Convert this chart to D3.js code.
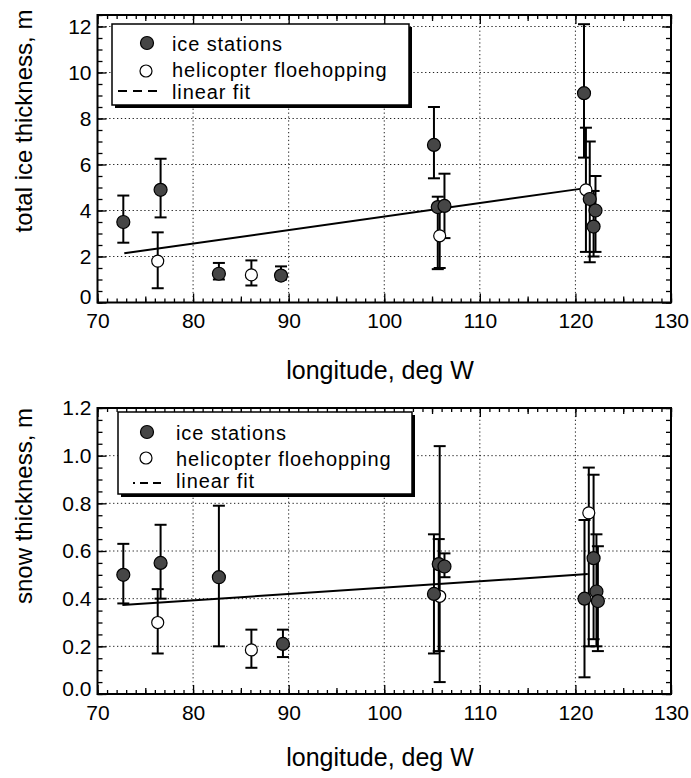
<!DOCTYPE html>
<html>
<head>
<meta charset="utf-8">
<script src="https://cdn.jsdelivr.net/npm/d3@7"></script>
<style>
  html, body { margin: 0; padding: 0; background: #fff; }
  svg { display: block; }
  text { font-family: "Liberation Sans", Arial, Helvetica, sans-serif; fill: #000; }
</style>
</head>
<body>
<svg id="chart" width="691" height="778"></svg>
<script>
// ---------------- data ----------------
const lonTicks = [70, 80, 90, 100, 110, 120, 130];
const lonTickLabels = ["70", "80", "90", "100", "110", "120", "130"];
const iceTicks = [0, 2, 4, 6, 8, 10, 12];
const iceTickLabels = ["0", "2", "4", "6", "8", "10", "12"];
const snowTicks = [0, 0.2, 0.4, 0.6, 0.8, 1.0, 1.2];
const snowTickLabels = ["0.0", "0.2", "0.4", "0.6", "0.8", "1.0", "1.2"];

const legendLabels = ["ice stations", "helicopter floehopping", "linear fit"];
const xTitle = "longitude, deg W";
const iceTitle = "total ice thickness, m";
const snowTitle = "snow thickness, m";

// total ice thickness — ice stations (filled)
const stationIceLon = [72.7, 76.6, 82.7, 89.2, 105.2, 105.6, 106.3, 120.9, 121.5, 122.1, 121.9];
const stationIce    = [3.5, 4.9, 1.25, 1.17, 6.85, 4.15, 4.2, 9.1, 4.5, 4.0, 3.3];
const stationIceLo  = [2.6, 3.7, 1.0, 1.0, 5.4, 1.45, 2.8, 6.3, 1.75, 2.2, 2.0];
const stationIceHi  = [4.65, 6.25, 1.72, 1.57, 8.5, 4.6, 5.6, 12.1, 7.0, 5.5, 4.85];
// total ice thickness — helicopter floehopping (open)
const heliIceLon = [76.3, 86.1, 105.8, 121.1];
const heliIce    = [1.8, 1.2, 2.9, 4.9];
const heliIceLo  = [0.62, 0.74, 1.5, 2.2];
const heliIceHi  = [3.05, 1.83, 4.3, 7.6];
// linear fit (end points)
const fitIceLon = [72.8, 120.5];
const fitIce    = [2.14, 4.94];

// snow thickness — ice stations (filled)
const stationSnowLon = [72.7, 76.6, 82.7, 89.4, 105.2, 105.7, 106.3, 120.95, 121.9, 122.2, 122.35];
const stationSnow    = [0.50, 0.55, 0.49, 0.21, 0.42, 0.545, 0.535, 0.40, 0.57, 0.43, 0.39];
const stationSnowLo  = [0.38, 0.40, 0.20, 0.155, 0.17, 0.18, 0.49, 0.07, 0.23, 0.20, 0.18];
const stationSnowHi  = [0.63, 0.71, 0.79, 0.27, 0.67, 0.65, 0.59, 0.73, 0.92, 0.67, 0.62];
// snow thickness — helicopter floehopping (open)
const heliSnowLon = [76.3, 86.1, 105.8, 121.4];
const heliSnow    = [0.30, 0.185, 0.41, 0.76];
const heliSnowLo  = [0.17, 0.11, 0.05, 0.20];
const heliSnowHi  = [0.44, 0.27, 1.04, 0.95];
// linear fit
const fitSnowLon = [72.6, 121.3];
const fitSnow    = [0.373, 0.503];

// ---------------- drawing ----------------
const svg = d3.select("#chart");
const FILL_DARK = "#464646";

function zip(lon, v, lo, hi) {
  return lon.map((d, i) => ({ x: d, y: v[i], lo: lo[i], hi: hi[i] }));
}

function drawPanel(p) {
  const x = d3.scaleLinear().domain([70, 130]).range([97.5, 671]);
  const y = d3.scaleLinear().domain(p.yDomain).range(p.yRange);
  const [x0, x1] = x.range();
  const yb = y(p.yDomain[0]), yt = y(p.yDomain[1]);
  const g = svg.append("g");

  // grid (dotted)
  g.append("g").selectAll("line").data(lonTicks.filter(d => d > 70 && d < 130)).join("line")
    .attr("x1", d => x(d)).attr("x2", d => x(d)).attr("y1", yt).attr("y2", yb)
    .attr("stroke", "#222").attr("stroke-width", 1).attr("stroke-dasharray", "1.3,2.6");
  g.append("g").selectAll("line").data(p.yTicks.filter(d => d > p.yDomain[0] && d < p.yDomain[1])).join("line")
    .attr("x1", x0).attr("x2", x1).attr("y1", d => y(d)).attr("y2", d => y(d))
    .attr("stroke", "#222").attr("stroke-width", 1).attr("stroke-dasharray", "1.3,2.6");

  // inward ticks on four sides
  const xMinor = d3.range(70, 130.001, 1);
  const xMid = d3.range(75, 130, 10);
  const yMinor = d3.range(p.yDomain[0], p.yDomain[1] + 1e-9, p.yMinorStep);
  const tickStyle = sel => { sel.select(".domain").remove(); sel.selectAll("line").attr("stroke", "#000").attr("stroke-width", 1.3); };
  function xTicks(vals, len) {
    g.append("g").attr("transform", `translate(0,${yb})`).call(d3.axisTop(x).tickValues(vals).tickSize(len).tickFormat("")).call(tickStyle);
    g.append("g").attr("transform", `translate(0,${yt})`).call(d3.axisBottom(x).tickValues(vals).tickSize(len).tickFormat("")).call(tickStyle);
  }
  function yTicksF(vals, len) {
    g.append("g").attr("transform", `translate(${x0},0)`).call(d3.axisRight(y).tickValues(vals).tickSize(len).tickFormat("")).call(tickStyle);
    g.append("g").attr("transform", `translate(${x1},0)`).call(d3.axisLeft(y).tickValues(vals).tickSize(len).tickFormat("")).call(tickStyle);
  }
  xTicks(xMinor, 4); xTicks(xMid, 6); xTicks(lonTicks, 9);
  yTicksF(yMinor, 5); yTicksF(p.yTicks, 9);

  // tick labels
  const xl = g.append("g").attr("transform", `translate(0,${yb})`)
    .call(d3.axisBottom(x).tickValues(lonTicks).tickSize(0).tickPadding(11).tickFormat((d, i) => lonTickLabels[i]));
  xl.select(".domain").remove();
  xl.selectAll("text").style("font-size", "21px").attr("fill", "#000");
  const yl = g.append("g").attr("transform", `translate(${x0},0)`)
    .call(d3.axisLeft(y).tickValues(p.yTicks).tickSize(0).tickPadding(6).tickFormat((d, i) => p.yTickLabels[i]));
  yl.select(".domain").remove();
  yl.selectAll("text").style("font-size", "21px").attr("fill", "#000")
    .attr("dy", (d, i) => i === 0 ? "0.05em" : "0.32em");

  // titles
  g.append("text").attr("x", 380).attr("y", p.xTitleY).attr("text-anchor", "middle")
    .style("font-size", "25px").text(xTitle);
  g.append("text").attr("transform", `translate(32,${p.yTitleY}) rotate(-90)`).attr("text-anchor", "middle")
    .style("font-size", "24px").text(p.yTitle);

  // linear fit
  const line = d3.line().x(d => x(d[0])).y(d => y(d[1]));
  g.append("path").datum(p.fitLon.map((d, i) => [d, p.fitVal[i]])).attr("d", line)
    .attr("fill", "none").attr("stroke", "#000").attr("stroke-width", 2);

  // error bars
  const all = p.stations.concat(p.heli);
  const eb = g.append("g").attr("stroke", "#000").attr("stroke-width", 2);
  eb.selectAll(".v").data(all).join("line")
    .attr("x1", d => x(d.x)).attr("x2", d => x(d.x)).attr("y1", d => y(d.lo)).attr("y2", d => y(d.hi));
  eb.selectAll(".ct").data(all).join("line")
    .attr("x1", d => x(d.x) - 6).attr("x2", d => x(d.x) + 6).attr("y1", d => y(d.hi)).attr("y2", d => y(d.hi));
  eb.selectAll(".cb").data(all).join("line")
    .attr("x1", d => x(d.x) - 6).attr("x2", d => x(d.x) + 6).attr("y1", d => y(d.lo)).attr("y2", d => y(d.lo));

  // markers
  g.append("g").selectAll("circle").data(p.heli).join("circle")
    .attr("cx", d => x(d.x)).attr("cy", d => y(d.y)).attr("r", 6)
    .attr("fill", "#fff").attr("stroke", "#000").attr("stroke-width", 1.2);
  g.append("g").selectAll("circle").data(p.stations).join("circle")
    .attr("cx", d => x(d.x)).attr("cy", d => y(d.y)).attr("r", 6.5)
    .attr("fill", FILL_DARK).attr("stroke", "#000").attr("stroke-width", 1.2);

  // frame
  g.append("rect").attr("x", x0).attr("y", yt).attr("width", x1 - x0).attr("height", yb - yt)
    .attr("fill", "none").attr("stroke", "#000").attr("stroke-width", 2);

  // legend
  const L = p.legend;
  const lg = g.append("g");
  lg.append("rect").attr("x", L.x + 3).attr("y", L.y + 3).attr("width", L.w).attr("height", L.h).attr("fill", "#000");
  lg.append("rect").attr("x", L.x).attr("y", L.y).attr("width", L.w).attr("height", L.h)
    .attr("fill", "#fff").attr("stroke", "#000").attr("stroke-width", 1.5);
  lg.append("circle").attr("cx", L.mx).attr("cy", L.rows[0]).attr("r", 6.5)
    .attr("fill", FILL_DARK).attr("stroke", "#000").attr("stroke-width", 1.2);
  lg.append("circle").attr("cx", L.mx - 1).attr("cy", L.rows[1]).attr("r", 6)
    .attr("fill", "#fff").attr("stroke", "#000").attr("stroke-width", 1.2);
  lg.append("line").attr("x1", L.dash[0]).attr("x2", L.dash[1]).attr("y1", L.rows[2]).attr("y2", L.rows[2])
    .attr("stroke", "#000").attr("stroke-width", 2).attr("stroke-dasharray", L.dashArray);
  lg.selectAll("text.lab").data(legendLabels).join("text")
    .attr("x", L.tx).attr("y", (d, i) => L.base[i])
    .style("font-size", "20px").style("letter-spacing", "0.9px").text(d => d);
}

drawPanel({
  yDomain: [0, 12.5], yRange: [302.5, 15],
  yTicks: iceTicks, yTickLabels: iceTickLabels, yMinorStep: 0.5,
  yTitle: iceTitle, yTitleY: 121, xTitleY: 379,
  stations: zip(stationIceLon, stationIce, stationIceLo, stationIceHi),
  heli: zip(heliIceLon, heliIce, heliIceLo, heliIceHi),
  fitLon: fitIceLon, fitVal: fitIce,
  legend: { x: 112, y: 24, w: 297, h: 81, mx: 147, rows: [43, 71, 91], base: [51, 77, 99],
            tx: 172, dash: [118, 162], dashArray: "9,6" }
});

drawPanel({
  yDomain: [0, 1.2], yRange: [694, 408],
  yTicks: snowTicks, yTickLabels: snowTickLabels, yMinorStep: 0.05,
  yTitle: snowTitle, yTitleY: 506, xTitleY: 766,
  stations: zip(stationSnowLon, stationSnow, stationSnowLo, stationSnowHi),
  heli: zip(heliSnowLon, heliSnow, heliSnowLo, heliSnowHi),
  fitLon: fitSnowLon, fitVal: fitSnow,
  legend: { x: 118, y: 412, w: 294, h: 82, mx: 147, rows: [432, 458, 483], base: [440, 466, 488],
            tx: 176, dash: [133, 162], dashArray: "2,5,8,5,8,5" }
});
</script>
</body>
</html>
